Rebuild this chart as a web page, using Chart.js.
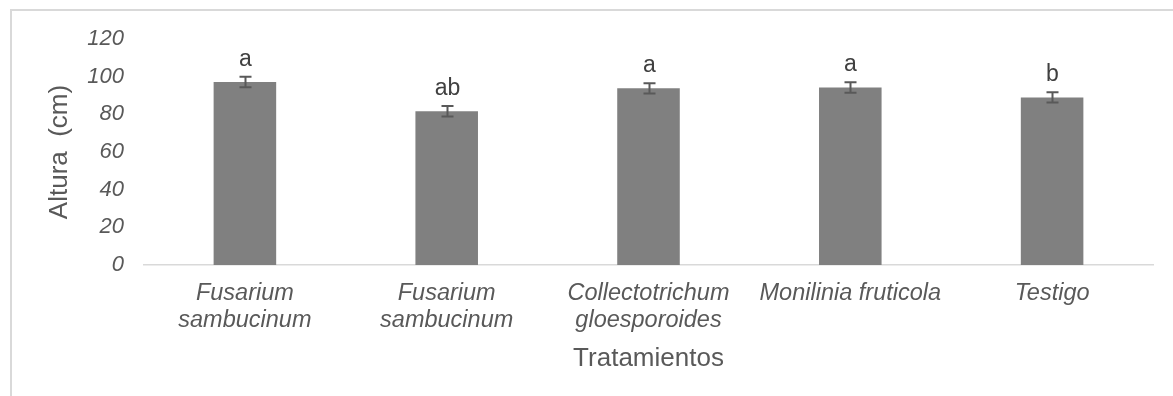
<!DOCTYPE html>
<html>
<head>
<meta charset="utf-8">
<script src="https://cdn.jsdelivr.net/npm/chart.js@4"></script>
<style>
  html, body { margin: 0; padding: 0; background: #fff; }
  #wrap { width: 1173px; height: 396px; }
</style>
</head>
<body>
<div id="wrap"><canvas id="myChart" width="1173" height="396"></canvas></div>
<script>
// valores
const categorias = [
    ['Fusarium', 'sambucinum'],
    ['Fusarium', 'sambucinum'],
    ['Collectotrichum', 'gloesporoides'],
    'Monilinia fruticola',
    'Testigo'
];
const altura = [97.2, 81.6, 93.8, 94.2, 89.0];
const errorEst = [2.8, 2.8, 2.7, 2.8, 2.7];
const letras = ['a', 'ab', 'a', 'a', 'b'];
const ticksY = [0, 20, 40, 60, 80, 100, 120];

const fuente = '"Liberation Sans", Arial, sans-serif';
const gris = '#595959';

// barras de error y letras de significancia
const extras = {
    id: 'extras',
    beforeDraw(chart) {
        const ctx = chart.ctx;
        ctx.save();
        ctx.fillStyle = '#fff';
        ctx.fillRect(0, 0, chart.width, chart.height);
        ctx.strokeStyle = '#d9d9d9';
        ctx.lineWidth = 2;
        ctx.strokeRect(11, 10, chart.width + 50, chart.height + 50);
        ctx.restore();
    },
    afterDatasetsDraw(chart) {
        const ctx = chart.ctx;
        const x = chart.scales.x;
        const y = chart.scales.y;
        ctx.save();
        ctx.strokeStyle = gris;
        ctx.lineWidth = 2;
        altura.forEach((v, i) => {
            const cx = Math.round(x.getPixelForValue(i)) + 0.5;
            const yTop = y.getPixelForValue(v + errorEst[i]);
            const yBot = y.getPixelForValue(v - errorEst[i]);
            ctx.beginPath();
            ctx.moveTo(cx, yTop);
            ctx.lineTo(cx, yBot);
            ctx.moveTo(cx - 6, yTop);
            ctx.lineTo(cx + 6, yTop);
            ctx.moveTo(cx - 6, yBot);
            ctx.lineTo(cx + 6, yBot);
            ctx.stroke();

            ctx.fillStyle = '#404040';
            ctx.font = '23px ' + fuente;
            ctx.textAlign = 'center';
            ctx.textBaseline = 'alphabetic';
            ctx.fillText(letras[i], cx, yTop - 11);
        });
        ctx.restore();
    }
};

const ctx = document.getElementById('myChart').getContext('2d');
new Chart(ctx, {
    type: 'bar',
    data: {
        labels: categorias,
        datasets: [{
            data: altura,
            backgroundColor: '#808080',
            borderWidth: 0,
            categoryPercentage: 1,
            barPercentage: 0.31
        }]
    },
    options: {
        responsive: false,
        animation: false,
        layout: {
            padding: { top: 39, right: 20, left: 0, bottom: 0 }
        },
        plugins: {
            legend: { display: false },
            tooltip: { enabled: false }
        },
        scales: {
            x: {
                grid: { display: false, drawTicks: false },
                border: { display: true, color: '#d9d9d9', width: 1.5 },
                ticks: {
                    color: gris,
                    padding: 14.5,
                    maxRotation: 0,
                    autoSkip: false,
                    font: { family: fuente, size: 23.5, style: 'italic', lineHeight: 1.15 }
                },
                title: {
                    display: true,
                    text: 'Tratamientos',
                    color: gris,
                    padding: { top: 0, bottom: 22 },
                    font: { family: fuente, size: 26, lineHeight: 1.2 }
                },
                afterFit: s => { s.height = 131; }
            },
            y: {
                min: 0,
                max: 120,
                grid: { display: false, drawTicks: false },
                border: { display: false },
                afterBuildTicks: s => { s.ticks = ticksY.map(v => ({ value: v })); },
                ticks: {
                    color: gris,
                    padding: 20,
                    font: { family: fuente, size: 22, style: 'italic' }
                },
                title: {
                    display: true,
                    text: 'Altura  (cm)',
                    color: gris,
                    padding: { top: 44, bottom: 0 },
                    font: { family: fuente, size: 26, lineHeight: 1.2 }
                },
                afterFit: s => { s.width = 144; }
            }
        }
    },
    plugins: [extras]
});
</script>
</body>
</html>
